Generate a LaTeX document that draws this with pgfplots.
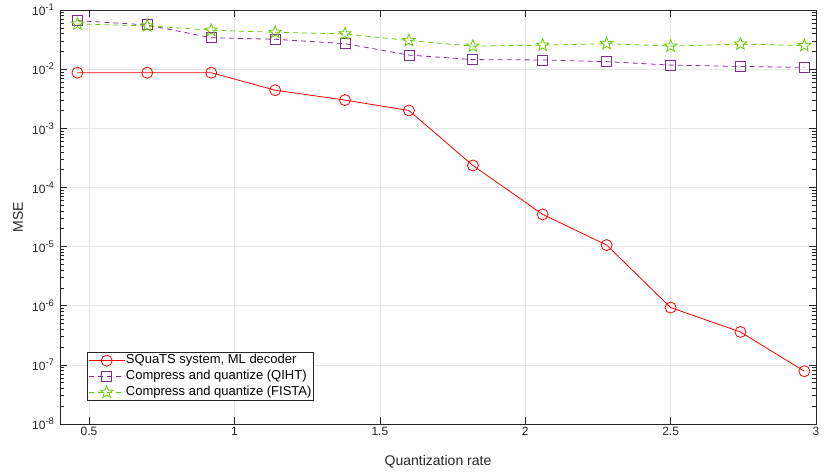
\documentclass[border=0pt]{standalone}
\usepackage{fontspec}
\setmainfont{Liberation Sans}
\usepackage{pgfplots}
\pgfplotsset{compat=1.18}
\definecolor{mred}{RGB}{255,0,0}
\definecolor{mpurple}{RGB}{126,47,142}
\definecolor{mgreen}{RGB}{102,204,0}
\definecolor{axgray}{RGB}{38,38,38}
\definecolor{gridgray}{RGB}{230,230,230}
\pgfdeclareplotmark{pentagram}{%
  \pgfpathmoveto{\pgfpointpolar{90}{\pgfplotmarksize}}%
  \pgfpathlineto{\pgfpointpolar{126}{0.42\pgfplotmarksize}}%
  \pgfpathlineto{\pgfpointpolar{162}{\pgfplotmarksize}}%
  \pgfpathlineto{\pgfpointpolar{198}{0.42\pgfplotmarksize}}%
  \pgfpathlineto{\pgfpointpolar{234}{\pgfplotmarksize}}%
  \pgfpathlineto{\pgfpointpolar{270}{0.42\pgfplotmarksize}}%
  \pgfpathlineto{\pgfpointpolar{306}{\pgfplotmarksize}}%
  \pgfpathlineto{\pgfpointpolar{342}{0.42\pgfplotmarksize}}%
  \pgfpathlineto{\pgfpointpolar{18}{\pgfplotmarksize}}%
  \pgfpathlineto{\pgfpointpolar{54}{0.42\pgfplotmarksize}}%
  \pgfpathclose
  \pgfusepathqstroke}
\newcommand{\ex}[1]{10\raisebox{0.42em}{\fontsize{9.5}{10}\selectfont #1}}
\begin{document}
\begin{tikzpicture}[x=1pt,y=1pt]
\path[use as bounding box] (-60,-49) rectangle (770,424);
\begin{axis}[
  at={(0,0)}, anchor=south west,
  scale only axis, width=756pt, height=414pt,
  xmin=0.4, xmax=3,
  ymode=log, ymin=1e-8, ymax=1e-1,
  xtick={0.5,1,1.5,2,2.5,3},
  xticklabels={0.5,1,1.5,2,2.5,3},
  ytick={1e-8,1e-7,1e-6,1e-5,1e-4,1e-3,1e-2,1e-1},
  yticklabels={\ex{-8},\ex{-7},\ex{-6},\ex{-5},\ex{-4},\ex{-3},\ex{-2},\ex{-1}},
  grid=major,
  major grid style={gridgray, line width=0.6pt},
  axis line style={axgray, line width=0.6pt},
  tick style={axgray, line width=0.6pt},
  major tick length=7pt, minor tick length=4pt,
  tick align=inside,
  ticklabel style={font=\fontsize{12}{14}\selectfont, text=axgray},
  yticklabel style={xshift=-2.5pt},
  xlabel={Quantization rate}, ylabel={MSE},
  label style={font=\fontsize{14}{16}\selectfont, text=axgray},
  xlabel style={at={(axis description cs:0.5,-0.0918)}, anchor=center},
  ylabel style={at={(axis description cs:-0.0556,0.5)}, anchor=center},
  legend style={at={(0.0357,0.0556)}, anchor=south west, draw=axgray, line width=0.6pt,
    font=\fontsize{13}{16}\selectfont, inner sep=1pt, row sep=1pt, text=black,
    nodes={inner sep=0.9pt, text height=9.5pt, text depth=3.5pt}},
  legend cell align=left,
  legend image code/.code={\draw[#1] (0pt,0pt) -- (18pt,0pt) plot coordinates {(18pt,0pt)} -- (36pt,0pt);},
]
\addplot[mred, line width=0.8pt, mark=o, mark size=5.5pt, mark options={solid, line width=0.8pt}] coordinates {
(0.46,8.7e-3) (0.70,8.7e-3) (0.92,8.7e-3) (1.14,4.4e-3) (1.38,3.0e-3) (1.60,2.0e-3)
(1.82,2.35e-4) (2.06,3.5e-5) (2.28,1.06e-5) (2.50,9.3e-7) (2.74,3.6e-7) (2.96,7.8e-8)};
\addlegendentry{SQuaTS system, ML decoder}
\addplot[mpurple, line width=0.8pt, dash pattern=on 5pt off 4pt, mark=square, mark size=5pt, mark options={solid, line width=0.8pt}] coordinates {
(0.46,0.066) (0.70,0.056) (0.92,0.034) (1.14,0.032) (1.38,0.027) (1.60,0.0173)
(1.82,0.0145) (2.06,0.0143) (2.28,0.0134) (2.50,0.0117) (2.74,0.0111) (2.96,0.0107)};
\addlegendentry{Compress and quantize (QIHT)}
\addplot[mgreen, line width=0.8pt, dash pattern=on 5pt off 4pt, mark=pentagram, mark size=6.5pt, mark options={solid, line width=0.8pt}] coordinates {
(0.46,0.058) (0.70,0.054) (0.92,0.0455) (1.14,0.042) (1.38,0.0395) (1.60,0.0305)
(1.82,0.0245) (2.06,0.0254) (2.28,0.0270) (2.50,0.0245) (2.74,0.0266) (2.96,0.0250)};
\addlegendentry{Compress and quantize (FISTA)}
\end{axis}
\end{tikzpicture}
\end{document}
